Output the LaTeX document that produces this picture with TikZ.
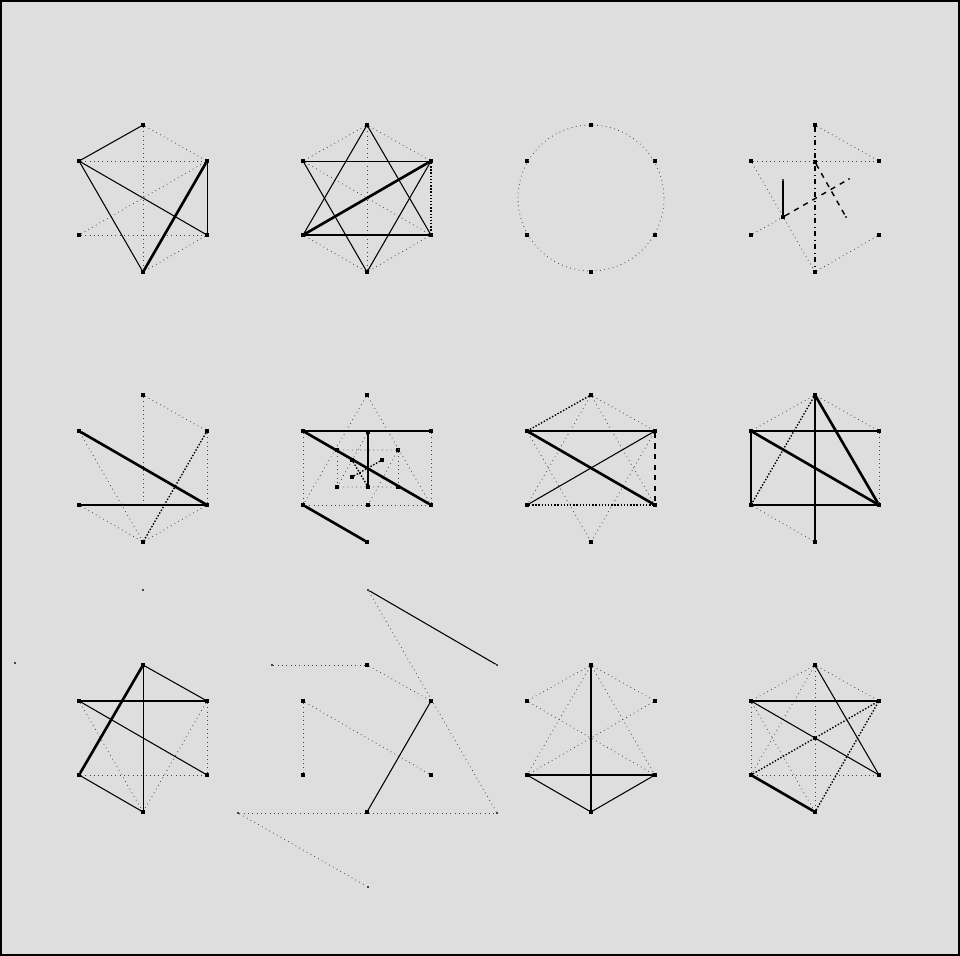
\documentclass[tikz,border=0pt]{standalone}
\usepackage{tikz}
\definecolor{stipple}{RGB}{222,222,222}
\definecolor{fainttext}{RGB}{70,70,70}

% six corners of one hexagon, named by a prefix
\newcommand{\hexpts}[3]{%
  \node[vdot] (#1t)  at (#2,#3-73) {};
  \node[vdot] (#1ur) at (#2+64,#3-37) {};
  \node[vdot] (#1lr) at (#2+64,#3+37) {};
  \node[vdot] (#1b)  at (#2,#3+74) {};
  \node[vdot] (#1ll) at (#2-64,#3+37) {};
  \node[vdot] (#1ul) at (#2-64,#3-37) {};
}

\begin{document}
\begin{tikzpicture}[x=0.02cm, y=-0.02cm,
    vdot/.style={rectangle, fill=black, inner sep=0pt, minimum size=1.8pt},
    pdot/.style={rectangle, fill=fainttext, inner sep=0pt, minimum size=1.2pt},
    thinline/.style={draw=black, line width=0.6pt},
    heavy/.style={draw=black, line width=1.5pt},
    midline/.style={draw=black, densely dotted, line width=0.8pt},
    faint/.style={draw=fainttext, dotted, line width=0.45pt},
    dashline/.style={draw=black, dashed, line width=0.8pt},
    dashdot/.style={draw=black, dash dot, line width=0.8pt}
]
\fill[stipple] (0,0) rectangle (960,956);
\draw[line width=1.2pt] (1,1) rectangle (959,955);

% row 1
\hexpts{a}{143}{198}
\draw[faint] (at) -- (aur);
\draw[faint] (aul) -- (aur);
\draw[faint] (at) -- (ab);
\draw[faint] (all) -- (alr);
\draw[faint] (alr) -- (ab);
\draw[faint] (all) -- (aur);
\draw[thinline] (at) -- (aul);
\draw[thinline] (aul) -- (alr);
\draw[thinline] (aul) -- (ab);
\draw[thinline] (aur) -- (alr);
\draw[heavy] (ab) -- (aur);

\hexpts{b}{367}{198}
\draw[faint] (bt) -- (bb);
\draw[faint] (bt) -- (bur);
\draw[faint] (bt) -- (bul);
\draw[faint] (bul) -- (blr);
\draw[faint] (blr) -- (bb);
\draw[faint] (bll) -- (bb);
\draw[thinline] (bul) -- (bur);
\draw[thinline] (bll) -- (blr);
\draw[thinline] (bt) -- (bll);
\draw[thinline] (bt) -- (blr);
\draw[thinline] (bul) -- (bb);
\draw[thinline] (bur) -- (bb);
\draw[midline] (bur) -- (blr);
\draw[heavy] (bll) -- (bur);

\hexpts{c}{591}{198}
\coordinate (cc) at (591,198);
\draw[faint] (cc) circle (1.46cm);

\hexpts{d}{815}{198}
\node[vdot] (dm) at (815,162) {};
\node[pdot] (d1) at (783,180) {};
\node[vdot] (d2) at (783,217) {};
\node[pdot] (d3) at (849,179) {};
\node[pdot] (d4) at (846,217) {};
\draw[faint] (dul) -- (dur);
\draw[faint] (dt) -- (dur);
\draw[faint] (dul) -- (db);
\draw[faint] (dlr) -- (db);
\draw[faint] (dll) -- (d2);
\draw[dashdot] (dt) -- (db);
\draw[thinline] (d1) -- (d2);
\draw[dashline] (d2) -- (d3);
\draw[dashline] (dm) -- (d4);

% row 2
\hexpts{e}{143}{468}
\coordinate (em) at (143,505);
\draw[faint] (et) -- (em);
\draw[faint] (et) -- (eur);
\draw[faint] (eur) -- (elr);
\draw[faint] (eul) -- (eb);
\draw[faint] (ell) -- (eb);
\draw[faint] (elr) -- (eb);
\draw[midline] (eur) -- (eb);
\draw[thinline] (ell) -- (elr);
\draw[heavy] (eul) -- (elr);

\hexpts{f}{367}{468}
\node[vdot] (f1) at (337,450) {};
\node[vdot] (f2) at (398,450) {};
\node[vdot] (f3) at (352,460) {};
\node[vdot] (f4) at (382,460) {};
\node[vdot] (f5) at (352,477) {};
\node[vdot] (f6) at (337,487) {};
\node[vdot] (f7) at (368,487) {};
\node[vdot] (f8) at (398,487) {};
\node[vdot] (f9) at (368,432) {};
\node[vdot] (f10) at (368,505) {};
\draw[faint] (ft) -- (flr);
\draw[faint] (ft) -- (fll);
\draw[faint] (fll) -- (flr);
\draw[faint] (fur) -- (flr);
\draw[faint] (ful) -- (fll);
\draw[faint] (f9) -- (f6) -- (f8) -- cycle;
\draw[faint] (f1) -- (f2) -- (f10) -- cycle;
\draw[faint] (f1) -- (f6);
\draw[faint] (f2) -- (f8);
\draw[midline] (f5) -- (f4);
\draw[midline] (f3) -- (f7);
\draw[thinline] (ful) -- (fur);
\draw[heavy] (ful) -- (flr);
\draw[heavy] (fll) -- (fb);
\draw[heavy] (f9) -- (f7);

\hexpts{g}{591}{468}
\draw[faint] (gt) -- (gur);
\draw[faint] (gt) -- (gll);
\draw[faint] (gt) -- (glr);
\draw[faint] (gul) -- (gb);
\draw[faint] (gur) -- (gb);
\draw[midline] (gt) -- (gul);
\draw[midline] (gll) -- (glr);
\draw[dashline] (gur) -- (glr);
\draw[thinline] (gll) -- (gur);
\draw[heavy] (gul) -- (gur);
\draw[heavy] (gul) -- (glr);

\hexpts{h}{815}{468}
\draw[faint] (hur) -- (hlr);
\draw[faint] (ht) -- (hur);
\draw[faint] (hll) -- (hb);
\draw[faint] (ht) -- (hul);
\draw[midline] (ht) -- (hll);
\draw[thinline] (ht) -- (hb);
\draw[thinline] (hul) -- (hur);
\draw[thinline] (hul) -- (hll);
\draw[thinline] (hll) -- (hlr);
\draw[heavy] (hul) -- (hlr);
\draw[heavy] (ht) -- (hlr);

% row 3
\node[pdot] (im) at (143,590) {};
\node[pdot] (in) at (15,663) {};
\hexpts{i}{143}{738}
\draw[faint] (ill) -- (ilr);
\draw[faint] (iur) -- (ilr);
\draw[faint] (iur) -- (ib);
\draw[faint] (iul) -- (ib);
\draw[thinline] (it) -- (ib);
\draw[thinline] (iul) -- (iur);
\draw[thinline] (iul) -- (ilr);
\draw[thinline] (it) -- (iur);
\draw[thinline] (ill) -- (ib);
\draw[heavy] (it) -- (ill);

\hexpts{j}{367}{738}
\node[pdot] (j1) at (368,590) {};
\node[pdot] (j2) at (497,665) {};
\node[pdot] (j3) at (272,665) {};
\node[pdot] (j4) at (238,813) {};
\node[pdot] (j5) at (497,813) {};
\node[pdot] (j6) at (368,887) {};
\draw[faint] (j1) -- (j5);
\draw[faint] (jul) -- (jlr);
\draw[faint] (jt) -- (jur);
\draw[faint] (j4) -- (j6);
\draw[faint] (j4) -- (j5);
\draw[faint] (j3) -- (jt);
\draw[faint] (jul) -- (jll);
\draw[thinline] (j1) -- (j2);
\draw[thinline] (jur) -- (jb);

\hexpts{k}{591}{738}
\draw[faint] (kul) -- (klr);
\draw[faint] (kur) -- (kll);
\draw[faint] (kt) -- (kll);
\draw[faint] (kt) -- (klr);
\draw[faint] (kt) -- (kul);
\draw[faint] (kt) -- (kur);
\draw[thinline] (kll) -- (kb);
\draw[thinline] (klr) -- (kb);
\draw[heavy] (kt) -- (kb);
\draw[heavy] (kll) -- (klr);

\hexpts{l}{815}{738}
\node[vdot] (lc) at (815,738) {};
\draw[faint] (lt) -- (lul);
\draw[faint] (lt) -- (lur);
\draw[faint] (lul) -- (lll);
\draw[faint] (lll) -- (llr);
\draw[faint] (lt) -- (lb);
\draw[faint] (lt) -- (lll);
\draw[faint] (lul) -- (lb);
\draw[midline] (lll) -- (lur);
\draw[midline] (lb) -- (lur);
\draw[thinline] (lt) -- (llr);
\draw[thinline] (lul) -- (llr);
\draw[heavy] (lul) -- (lur);
\draw[heavy] (lll) -- (lb);
\end{tikzpicture}
\end{document}
